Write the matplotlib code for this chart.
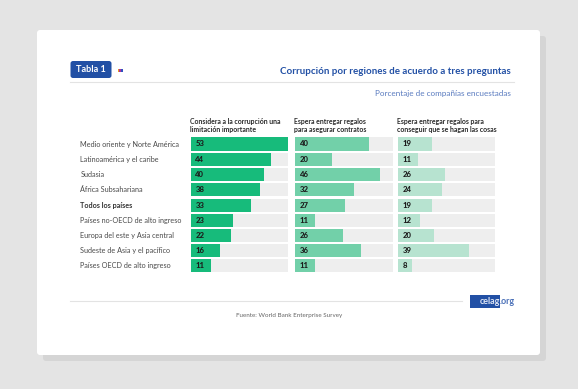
import matplotlib
matplotlib.use('Agg')
import matplotlib.pyplot as plt
from matplotlib.patches import FancyBboxPatch, Rectangle

plt.rcParams['font.family'] = ['Lato', 'DejaVu Sans']

regions = ['Medio oriente y Norte América', 'Latinoamérica y el caribe', 'Sudasia',
           'África Subsahariana', 'Todos los países', 'Países no-OECD de alto ingreso',
           'Europa del este y Asia central', 'Sudeste de Asia y el pacífico',
           'Países OECD de alto ingreso']
corrupcion = [53, 44, 40, 38, 33, 23, 22, 16, 11]
contratos = [40, 20, 46, 32, 27, 11, 26, 36, 11]
cosas = [19, 11, 26, 24, 19, 12, 20, 39, 8]

col_titles = ['Considera a la corrupción una\nlimitación importante',
              'Espera entregar regalos\npara asegurar contratos',
              'Espera entregar regalos para\nconseguir que se hagan las cosas']
col_colors = ['#17bb7b', '#72d0a9', '#b7e3d0']
col_x = [190.5, 295, 397.5]
col_w = 97.5
row_y = [144, 159.4, 174.3, 189.7, 205.2, 220.3, 235.5, 250.7, 265.8]
blue = '#2250a5'
W, H = 578, 389

fig = plt.figure(figsize=(W/100, H/100), dpi=100, facecolor='#e4e4e4')

# page in pixel coordinates
bg = fig.add_axes([0, 0, 1, 1])
bg.set_xlim(0, W)
bg.set_ylim(H, 0)
bg.axis('off')
bg.add_patch(FancyBboxPatch((43, 36), 503, 325, boxstyle='round,pad=0,rounding_size=3',
                            fc='#d5d5d5', ec='none'))
bg.add_patch(FancyBboxPatch((37, 30), 503, 325, boxstyle='round,pad=0,rounding_size=3',
                            fc='white', ec='none'))
bg.add_patch(FancyBboxPatch((70.5, 61), 41, 17, boxstyle='round,pad=0,rounding_size=2.5',
                            fc=blue, ec='none'))
bg.text(91, 69.7, 'Tabla 1', color='white', fontsize=6.6, fontweight='bold', ha='center', va='center')
for i, c in enumerate(['#e8a020', '#b0309a', '#3050c0']):
    bg.add_patch(Rectangle((117.5 + i*1.8, 68.5), 1.8, 3, fc=c, ec='none'))
bg.plot([70, 514], [82.4, 82.4], color='#e3e3e3', lw=0.8)
bg.plot([70, 462], [301.4, 301.4], color='#e3e3e3', lw=0.8)
bg.text(511, 71.7, 'Corrupción por regiones de acuerdo a tres preguntas', color=blue,
        fontsize=7.05, fontweight='bold', ha='right', va='center')
bg.text(511, 93.3, 'Porcentaje de compañías encuestadas', color='#5b7cc0',
        fontsize=5.9, ha='right', va='center')

for y, name in zip(row_y, regions):
    bold = name == 'Todos los países'
    bg.text(80.5, y, name, fontsize=5.25, color='#333333' if bold else '#4a4a4a',
            fontweight='bold' if bold else 'normal', va='center')

for x, t in zip(col_x, col_titles):
    bg.text(x - 0.5, 125.3, t, fontsize=4.95, color='#2a2a2a', fontweight='bold',
            va='center', linespacing=1.25)

# one axes per column, all on the same 0-53 scale
for x, vals, color in zip(col_x, [corrupcion, contratos, cosas], col_colors):
    ax = fig.add_axes([x/W, 1 - 273/H, col_w/W, (273 - 136.5)/H])
    ax.set_xlim(0, 53)
    ax.set_ylim(273, 136.5)
    ax.axis('off')
    ax.patch.set_alpha(0)
    ax.barh(row_y, [53]*len(vals), height=13.2, color='#eeeeee')
    ax.barh(row_y, vals, height=13.2, color=color)
    for y, v in zip(row_y, vals):
        ax.text(2.7, y, str(v), fontsize=5.6, fontweight='black', color='#1c1c1c', va='center')

bg.add_patch(Rectangle((470, 295), 30, 13.3, fc=blue, ec='none'))
bg.text(500, 301.5, 'celag', color='#dfe6f5', fontsize=6.4, fontweight='bold', ha='right', va='center')
bg.text(500, 301.5, '.org', color='#4a70b8', fontsize=6.4, fontweight='bold', ha='left', va='center')
bg.text(289, 316, 'Fuente: World Bank Enterprise Survey', color='#666666', fontsize=4.5,
        ha='center', va='center')

fig.savefig('out.png', dpi=100, facecolor=fig.get_facecolor())
